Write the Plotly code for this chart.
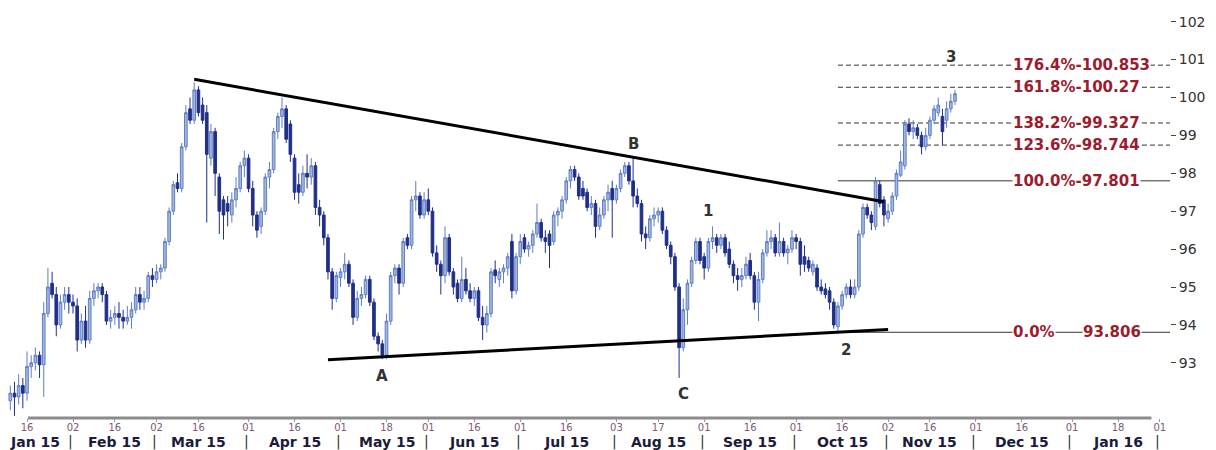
import pandas as pd
import plotly.graph_objects as go

# ---------------- data ----------------
start_date = "2015-01-12"
last_candle_date = "2015-11-24"
axis_end_date = "2016-02-01"

# daily OHLC, one line per trading week
open_ = [
    92.0, 92.2, 92.1, 92.4, 92.2,
    92.9, 93.0, 93.2, 92.95, 94.3,
    95.1, 94.8, 94.0, 94.6, 94.8,
    94.6, 94.5, 93.6, 94.1, 93.6,
    94.7, 94.9, 95.0, 94.8, 94.1,
    94.2, 94.3, 94.2, 94.1, 94.2,
    94.4, 94.8, 94.6, 94.7, 95.3,
    95.2, 95.4, 95.5, 96.2, 97.0,
    97.75, 97.6, 98.7, 99.7, 99.4,
    100.2, 99.8, 99.6, 98.4, 99.1,
    97.9, 97.3, 97.2, 96.9, 97.3,
    97.6, 98.2, 98.4, 97.6, 96.9,
    96.6, 97.0, 97.9, 98.1, 99.1,
    99.5, 99.7, 99.3, 98.4, 97.7,
    97.5, 98.0, 97.9, 98.2, 97.1,
    96.9, 96.3, 95.4, 94.7, 95.25,
    95.4, 95.6, 95.1, 94.2, 94.7,
    94.8, 95.2, 94.6, 93.7, 93.5,
    93.2, 94.1, 95.3, 95.5, 95.1,
    96.3, 96.1, 97.3, 97.4, 96.9,
    97.3, 97.0, 95.9, 95.6, 95.3,
    96.3, 95.4, 95.1, 94.7, 95.2,
    94.9, 94.7, 94.9, 94.2, 94.0,
    94.3, 95.45, 95.2, 95.4, 95.5,
    96.2, 94.9, 95.8, 96.3, 96.0,
    96.1, 96.4, 96.7, 96.3, 96.4,
    96.2, 96.9, 97.0, 97.3, 97.8,
    98.1, 97.9, 97.6, 97.5, 97.1,
    97.2, 96.6, 96.9, 97.3, 97.6,
    97.3, 97.6, 98.0, 98.2, 97.8,
    97.4, 97.2, 96.4, 96.3, 96.8,
    96.9, 97.0, 96.5, 96.1, 95.8,
    95.0, 93.4, 94.4, 95.1, 95.7,
    96.2, 95.8, 95.5, 96.2, 96.3,
    96.1, 96.3, 96.0, 95.6, 95.3,
    95.2, 95.3, 95.7, 95.3, 94.6,
    95.2, 95.9, 96.2, 96.3, 95.9,
    96.2, 95.9, 96.0, 96.3, 96.2,
    95.8, 95.7, 95.4, 95.5, 95.0,
    94.95, 94.9, 94.6, 93.95, 94.5,
    94.8, 95.0, 94.8, 95.0, 96.4,
    97.1, 96.9, 96.6, 97.7, 97.3,
    96.8, 97.0, 97.4, 97.95, 98.2,
    99.3, 99.1, 99.2, 99.0, 98.7,
    99.0, 99.4, 99.6, 99.5, 99.4,
    99.7, 99.9,
]
high = [
    92.4, 92.5, 92.7, 92.6, 93.3,
    93.2, 93.4, 93.3, 94.6, 95.5,
    95.4, 95.0, 94.8, 95.0, 95.0,
    94.8, 94.7, 94.3, 94.5, 94.9,
    95.1, 95.1, 95.1, 94.9, 94.4,
    94.5, 94.6, 94.4, 94.5, 94.6,
    95.0, 95.0, 94.9, 95.4, 95.5,
    95.6, 95.6, 96.3, 97.1, 97.8,
    98.0, 98.8, 99.8, 100.0, 100.4,
    100.3, 100.0, 99.8, 99.3, 99.2,
    98.0, 97.4, 97.4, 97.5, 97.9,
    98.3, 98.6, 98.5, 97.8, 97.0,
    97.1, 98.0, 98.3, 99.2, 99.6,
    100.0, 99.8, 99.4, 98.5, 98.0,
    98.2, 98.5, 98.4, 98.3, 97.3,
    97.0, 96.4, 95.5, 95.4, 95.5,
    95.9, 95.7, 95.2, 94.9, 95.0,
    95.3, 95.3, 94.7, 93.8, 93.6,
    94.3, 95.4, 95.6, 95.6, 96.3,
    96.4, 97.4, 97.8, 97.5, 97.5,
    97.6, 97.1, 96.1, 95.7, 96.6,
    96.4, 95.5, 95.2, 95.8, 95.5,
    95.1, 95.0, 95.0, 94.5, 94.5,
    95.5, 95.7, 95.5, 95.6, 95.9,
    96.4, 95.9, 96.4, 96.4, 96.2,
    96.5, 97.2, 96.8, 96.5, 96.5,
    97.0, 97.1, 97.4, 97.9, 98.2,
    98.2, 98.0, 97.8, 97.6, 97.4,
    97.3, 97.1, 97.4, 97.7, 97.8,
    97.7, 98.1, 98.3, 98.3, 98.4,
    97.6, 97.3, 96.6, 96.9, 97.1,
    97.1, 97.1, 96.6, 96.2, 95.9,
    95.1, 94.7, 95.2, 95.8, 96.3,
    96.3, 95.9, 96.3, 96.6, 96.4,
    96.4, 96.4, 96.2, 95.7, 95.5,
    95.5, 95.8, 95.9, 95.4, 95.4,
    96.0, 96.5, 96.5, 96.4, 96.7,
    96.3, 96.1, 96.5, 96.4, 96.3,
    96.1, 95.8, 95.7, 95.6, 95.2,
    95.1, 95.0, 94.7, 94.6, 94.9,
    95.1, 95.2, 95.2, 96.5, 97.2,
    97.2, 97.0, 97.9, 97.8, 97.4,
    97.2, 97.5, 98.1, 98.6, 99.4,
    99.45, 99.4, 99.3, 99.1, 99.2,
    99.5, 99.8, 100.0, 99.7, 99.9,
    100.1, 100.2,
]
low = [
    91.75, 91.6, 91.9, 91.8, 92.0,
    92.6, 92.8, 92.6, 92.1, 94.2,
    94.7, 93.7, 93.9, 94.4, 94.3,
    94.3, 93.3, 93.5, 93.4, 93.5,
    94.5, 94.7, 94.6, 94.0, 93.9,
    94.0, 93.9, 93.9, 94.0, 93.9,
    94.3, 94.4, 94.4, 94.6, 95.0,
    95.1, 95.2, 95.4, 96.1, 96.9,
    97.5, 97.5, 98.6, 99.3, 99.3,
    99.5, 99.3, 96.7, 98.2, 97.4,
    96.4, 96.25, 96.6, 96.7, 97.1,
    97.5, 97.9, 97.5, 96.6, 96.3,
    96.4, 96.9, 97.6, 98.0, 98.9,
    99.2, 98.8, 98.3, 97.3, 97.2,
    97.4, 97.6, 97.7, 96.9, 96.6,
    96.1, 95.2, 94.4, 94.6, 95.0,
    95.2, 95.0, 94.0, 94.1, 94.5,
    94.7, 94.5, 93.6, 93.3, 93.1,
    93.1, 94.0, 95.1, 94.8, 95.0,
    96.0, 96.0, 97.0, 96.8, 96.8,
    96.9, 95.8, 95.4, 94.8, 95.1,
    95.3, 94.8, 94.6, 94.6, 94.8,
    94.6, 94.5, 94.1, 93.6, 93.8,
    94.2, 95.1, 95.0, 95.1, 95.3,
    94.7, 94.8, 95.6, 95.9, 95.8,
    95.9, 96.3, 96.2, 95.9, 95.5,
    96.1, 96.6, 96.8, 97.2, 97.6,
    97.8, 97.3, 97.3, 97.0, 96.9,
    96.3, 96.5, 96.8, 97.0, 96.3,
    97.2, 97.5, 97.9, 97.7, 97.1,
    97.1, 96.2, 96.0, 96.2, 96.6,
    96.7, 96.4, 96.0, 95.6, 94.9,
    92.6, 93.3, 94.0, 95.0, 95.6,
    95.6, 95.2, 95.4, 96.0, 95.9,
    96.0, 95.8, 95.5, 95.1, 94.9,
    95.0, 95.2, 95.2, 94.4, 94.1,
    95.1, 95.8, 96.0, 95.8, 95.8,
    95.8, 95.6, 95.9, 96.0, 95.3,
    95.4, 95.4, 95.3, 94.9, 94.8,
    94.7, 94.4, 93.9, 93.8, 94.4,
    94.7, 94.7, 94.7, 94.9, 96.3,
    96.8, 96.5, 96.5, 97.1, 96.6,
    96.7, 96.9, 97.3, 97.9, 98.1,
    99.0, 98.9, 98.9, 98.5, 98.6,
    98.9, 99.3, 99.5, 98.75, 99.2,
    99.6, 99.8,
]
close = [
    92.2, 92.1, 92.4, 92.2, 92.9,
    93.0, 93.2, 92.95, 94.3, 95.0,
    94.8, 94.0, 94.6, 94.8, 94.6,
    94.5, 93.6, 94.1, 93.6, 94.7,
    94.9, 95.0, 94.8, 94.1, 94.2,
    94.3, 94.2, 94.1, 94.2, 94.4,
    94.8, 94.6, 94.7, 95.3, 95.2,
    95.4, 95.5, 96.2, 97.0, 97.7,
    97.6, 98.7, 99.6, 99.4, 100.2,
    99.6, 99.4, 98.5, 99.1, 98.0,
    97.0, 96.9, 97.0, 97.3, 97.6,
    98.2, 98.4, 97.6, 96.9, 96.5,
    97.0, 97.9, 98.1, 99.1, 99.5,
    99.7, 98.9, 98.5, 97.5, 97.5,
    98.0, 97.9, 98.2, 97.1, 96.9,
    96.3, 95.4, 94.7, 95.3, 95.4,
    95.6, 95.1, 94.2, 94.7, 94.8,
    95.2, 94.6, 93.7, 93.5, 93.2,
    94.1, 95.3, 95.5, 95.1, 96.2,
    96.1, 97.3, 97.4, 96.9, 97.3,
    97.0, 95.9, 95.6, 95.3, 96.3,
    95.4, 95.0, 94.7, 95.2, 94.9,
    94.7, 94.9, 94.2, 94.0, 94.3,
    95.4, 95.3, 95.4, 95.5, 95.8,
    94.9, 95.8, 96.2, 96.0, 96.1,
    96.4, 96.7, 96.3, 96.2, 96.1,
    96.9, 97.0, 97.3, 97.8, 98.1,
    97.9, 97.4, 97.4, 97.1, 97.2,
    96.6, 96.9, 97.3, 97.5, 97.3,
    97.6, 98.0, 98.2, 97.8, 97.4,
    97.2, 96.4, 96.3, 96.8, 96.9,
    97.0, 96.5, 96.1, 95.8, 95.0,
    93.4, 94.4, 95.1, 95.7, 96.2,
    95.7, 95.5, 96.2, 96.3, 96.1,
    96.3, 95.9, 95.6, 95.3, 95.2,
    95.3, 95.6, 95.3, 94.6, 95.2,
    95.9, 96.2, 96.3, 95.9, 96.2,
    95.9, 96.0, 96.3, 96.2, 95.6,
    95.6, 95.5, 95.6, 95.0, 94.9,
    94.8, 94.6, 94.0, 94.5, 94.8,
    95.0, 94.8, 95.0, 96.4, 97.1,
    96.9, 96.7, 97.8, 97.2, 96.9,
    97.0, 97.4, 98.0, 98.3, 99.3,
    99.1, 99.2, 99.0, 98.7, 99.0,
    99.4, 99.7, 99.8, 99.1, 99.7,
    99.9, 100.1,
]

# x-axis tick labels
tick_dates = ["2015-01-16", "2015-02-02", "2015-02-16", "2015-03-02", "2015-03-16",
              "2015-04-01", "2015-04-16", "2015-05-01", "2015-05-18", "2015-06-01",
              "2015-06-16", "2015-07-01", "2015-07-16", "2015-08-03", "2015-08-17",
              "2015-09-01", "2015-09-16", "2015-10-01", "2015-10-16", "2015-11-02",
              "2015-11-16", "2015-12-01", "2015-12-16", "2016-01-01", "2016-01-18",
              "2016-02-01"]
tick_text = ["16", "02", "16", "02", "16", "01", "16", "01", "18", "01", "16", "01", "16",
             "03", "17", "01", "16", "01", "16", "02", "16", "01", "16", "01", "18", "01"]

month_labels = ["Jan 15", "Feb 15", "Mar 15", "Apr 15", "May 15", "Jun 15", "Jul 15",
                "Aug 15", "Sep 15", "Oct 15", "Nov 15", "Dec 15", "Jan 16"]
month_label_dates = ["2015-01-16", "2015-02-16", "2015-03-16", "2015-04-16", "2015-05-18",
                     "2015-06-16", "2015-07-16", "2015-08-17", "2015-09-16", "2015-10-16",
                     "2015-11-16", "2015-12-16", "2016-01-18"]
month_start_dates = ["2015-02-02", "2015-03-02", "2015-04-01", "2015-05-01", "2015-06-01",
                     "2015-07-01", "2015-08-03", "2015-09-01", "2015-10-01", "2015-11-02",
                     "2015-12-01", "2016-01-01", "2016-02-01"]

y_ticks = [93, 94, 95, 96, 97, 98, 99, 100, 101, 102]

# Fibonacci extension levels
fib_start_date = "2015-10-15"
fib_pct = [0.0, 100.0, 123.6, 138.2, 161.8, 176.4]
fib_values = [93.806, 97.801, 98.744, 99.327, 100.27, 100.853]

# trend lines
resistance_dates = ["2015-03-13", "2015-10-30"]
resistance_values = [100.48, 97.25]
support_dates = ["2015-04-28", "2015-11-02"]
support_values = [93.08, 93.88]

# wave labels
wave_text = ["A", "B", "C", "1", "2", "3"]
wave_dates = ["2015-05-15", "2015-08-07", "2015-08-25", "2015-09-02", "2015-10-19", "2015-11-23"]
wave_values = [92.66, 98.77, 92.18, 97.0, 93.34, 101.07]

# ---------------- figure ----------------
candle_days = pd.bdate_range(start_date, last_candle_date).strftime("%Y-%m-%d").tolist()
all_days = pd.bdate_range(start_date, axis_end_date).strftime("%Y-%m-%d").tolist()
pos = {d: i for i, d in enumerate(all_days)}

X_RANGE = [-0.55, 277.44]
Y_RANGE = [91.544, 102.361]
FONT = "DejaVu Sans"
FIB_COLOR = "#9b1c2e"

fig = go.Figure()

# register all axis categories (through Feb 2016)
fig.add_trace(go.Scatter(x=all_days, y=[None] * len(all_days), mode="markers",
                         marker=dict(opacity=0), hoverinfo="skip", showlegend=False))

fig.add_trace(go.Candlestick(
    x=candle_days, open=open_, high=high, low=low, close=close,
    increasing=dict(fillcolor="#a3b9e2", line=dict(color="#5f7dc2", width=1)),
    decreasing=dict(fillcolor="#202f88", line=dict(color="#202f88", width=1)),
    showlegend=False,
))

for dates, vals in ((resistance_dates, resistance_values), (support_dates, support_values)):
    fig.add_trace(go.Scatter(x=dates, y=vals, mode="lines",
                             line=dict(color="#000000", width=3), showlegend=False,
                             hoverinfo="skip"))

shapes = []
annotations = []

# fib level lines and labels
label_x = 239.6
for p, v in zip(fib_pct, fib_values):
    solid = p in (0.0, 100.0)
    shapes.append(dict(type="line", xref="x", yref="y",
                       x0=pos[fib_start_date], x1=X_RANGE[1], y0=v, y1=v,
                       line=dict(color="#333333", width=1,
                                 dash="solid" if solid else "5px,3px"),
                       layer="below"))
    if p == 0.0:
        annotations.append(dict(x=label_x, y=v, xref="x", yref="y", xanchor="left",
                                text=f"<b>{p:.1f}%</b>", showarrow=False, bgcolor="white",
                                borderpad=0, font=dict(family=FONT, size=15, color=FIB_COLOR)))
        annotations.append(dict(x=label_x + 16.8, y=v, xref="x", yref="y", xanchor="left",
                                text=f"<b>{v:g}</b>", showarrow=False, bgcolor="white",
                                borderpad=0, font=dict(family=FONT, size=15, color=FIB_COLOR)))
    else:
        annotations.append(dict(x=label_x, y=v, xref="x", yref="y", xanchor="left",
                                text=f"<b>{p:.1f}%-{v:g}</b>", showarrow=False,
                                bgcolor="white", borderpad=0,
                                font=dict(family=FONT, size=15, color=FIB_COLOR)))

# wave labels
for t, d, v in zip(wave_text, wave_dates, wave_values):
    annotations.append(dict(x=pos[d], y=v, xref="x", yref="y", text=f"<b>{t}</b>",
                            showarrow=False, font=dict(family=FONT, size=15, color="#333333")))

# bottom axis line
shapes.append(dict(type="line", xref="x", yref="paper", x0=4.2, x1=273.0, y0=0, y1=0,
                   line=dict(color="#8c8c8c", width=3)))

# month labels and separators (first label kept inside the left edge)
for i, (m, d) in enumerate(zip(month_labels, month_label_dates)):
    first = i == 0
    annotations.append(dict(x=X_RANGE[0] if first else pos[d], y=0, xref="x", yref="paper",
                            xanchor="left" if first else "center", yanchor="top",
                            yshift=-14, text=f"<b>{m}</b>", showarrow=False,
                            font=dict(family=FONT, size=14, color="#1c1c3a")))
for d in month_start_dates:
    annotations.append(dict(x=pos[d] - 0.5, y=0, xref="x", yref="paper", yanchor="top",
                            yshift=-13, text="|", showarrow=False,
                            font=dict(family=FONT, size=14, color="#333333")))

# the page body adds an 8px offset, so the figure is 8px smaller than the window
fig.update_layout(
    width=1208, height=442,
    margin=dict(l=0, r=46, t=0, b=32, autoexpand=False),
    template="none",
    paper_bgcolor="white", plot_bgcolor="white",
    font=dict(family=FONT),
    showlegend=False,
    boxgap=0.1,
    shapes=shapes,
    annotations=annotations,
    xaxis=dict(type="category", categoryorder="array", categoryarray=all_days,
               range=X_RANGE, rangeslider=dict(visible=False),
               tickmode="array", tickvals=tick_dates, ticktext=tick_text,
               ticks="outside", ticklen=3, tickcolor="#999999", tickangle=0,
               ticklabelstandoff=-3,
               tickfont=dict(family=FONT, size=10, color="#7e5876"),
               showgrid=False, zeroline=False, showline=False, automargin=False),
    yaxis=dict(side="right", range=Y_RANGE, tickmode="array", tickvals=y_ticks,
               ticks="outside", ticklen=5, tickcolor="#444444",
               tickfont=dict(family=FONT, size=14, color="#333333"),
               showgrid=False, zeroline=False, showline=False, automargin=False),
)

fig.write_html("out.html")
